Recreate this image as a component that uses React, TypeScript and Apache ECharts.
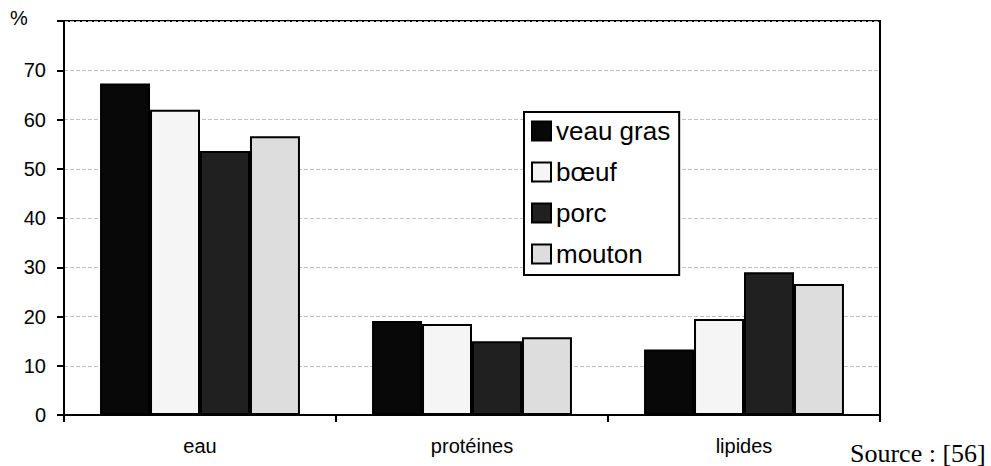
import React, { useEffect, useRef } from "react";
import * as echarts from "echarts";

const categories = ["eau", "protéines", "lipides"];
const seriesNames = ["veau gras", "bœuf", "porc", "mouton"];
const veauGras = [67.3, 19.1, 13.3];
const boeuf = [62.0, 18.5, 19.5];
const porc = [53.6, 15.0, 29.0];
const mouton = [56.6, 15.8, 26.6];
const seriesColors = ["#080808", "#f5f5f5", "#202020", "#dddddd"];
const yTicks = [0, 10, 20, 30, 40, 50, 60, 70];

export default function App() {
  const ref = useRef<HTMLDivElement>(null);
  useEffect(() => {
    if (!ref.current) return;
    const chart = echarts.init(ref.current, null, { renderer: "svg" });
    const values = [veauGras, boeuf, porc, mouton];
    chart.setOption({
      animation: false,
      backgroundColor: "#ffffff",
      textStyle: { fontFamily: "Liberation Sans" },
      grid: {
        left: 64,
        top: 21,
        right: 111,
        bottom: 51,
        show: true,
        borderColor: "#000",
        borderWidth: 2,
        backgroundColor: "transparent",
      },
      legend: {
        orient: "vertical",
        left: 524,
        top: 112,
        padding: [6, 9, 8, 7],
        itemGap: 15,
        itemWidth: 19,
        itemHeight: 19,
        borderColor: "#000",
        borderWidth: 2,
        backgroundColor: "#fff",
        icon: "rect",
        data: seriesNames,
        textStyle: {
          fontSize: 26,
          lineHeight: 25,
          color: "#000",
          fontFamily: "Liberation Sans",
        },
      },
      xAxis: {
        type: "category",
        data: categories,
        axisLine: { lineStyle: { color: "#000", width: 2 } },
        axisTick: { show: true, length: 7, lineStyle: { color: "#000", width: 2 } },
        axisLabel: { color: "#000", fontSize: 20, margin: 21, fontFamily: "Liberation Sans" },
        splitLine: { show: false },
      },
      yAxis: {
        type: "value",
        min: 0,
        max: 80,
        interval: 10,
        axisLine: { show: true, lineStyle: { color: "#000", width: 2 } },
        axisTick: { show: true, length: 7, lineStyle: { color: "#000", width: 2 } },
        axisLabel: {
          color: "#000",
          fontSize: 20,
          margin: 18,
          fontFamily: "Liberation Sans",
          formatter: (v: number) => (yTicks.includes(v) ? String(v) : ""),
        },
        splitLine: {
          show: true,
          lineStyle: { color: "#c0c0c0", type: [4, 2], width: 1 },
        },
      },
      series: seriesNames.map((name, i) => ({
        name,
        type: "bar",
        data: values[i],
        barGap: "0%",
        barCategoryGap: "26.5%",
        itemStyle: { color: seriesColors[i], borderColor: "#000", borderWidth: 2 },
      })),
      graphic: [
        {
          type: "text",
          left: 10,
          top: 8,
          style: { text: "%", fontSize: 20, fill: "#000", fontFamily: "Liberation Sans" },
        },
        {
          type: "text",
          left: 850,
          top: 440,
          style: { text: "Source : [56]", fontSize: 26, fill: "#000", fontFamily: "Liberation Serif" },
        },
      ],
    });
    return () => chart.dispose();
  }, []);
  return (
    <div
      ref={ref}
      style={{ position: "absolute", left: 0, top: 0, width: 991, height: 466 }}
    />
  );
}
